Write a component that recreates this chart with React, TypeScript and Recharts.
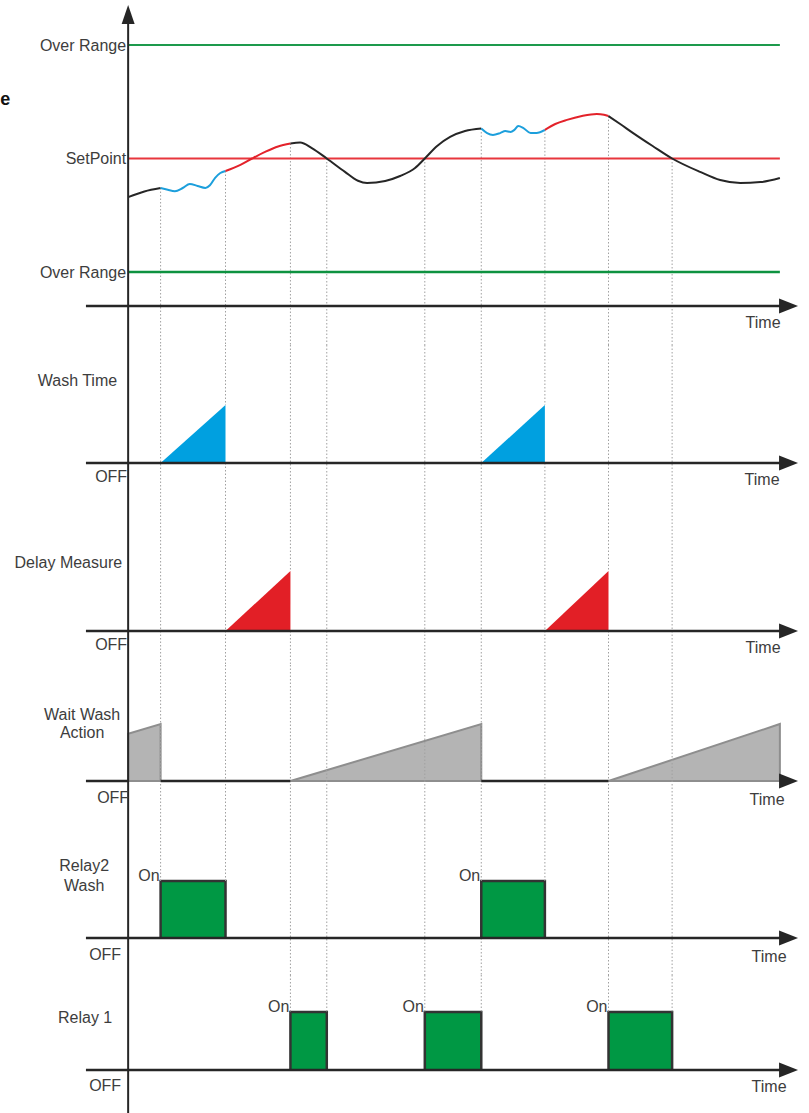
import { Area, ComposedChart, Line, ReferenceDot, ReferenceLine, XAxis, YAxis } from "recharts";

const FONT = '"Liberation Sans", Arial, sans-serif';
const INK = "#262626";
const TEXT = "#3d3d3d";
const GUIDE = "#a0a0a0";
const GREEN_LINE = "#1d9a4c";
const RED_LINE = "#e8363d";
const PV_BLACK = "#262626";
const PV_BLUE = "#1c9fdc";
const PV_RED = "#e3222a";
const WASH_FILL = "#00a0e0";
const DELAY_FILL = "#e21f26";
const WAIT_FILL = "#b4b4b4";
const WAIT_STROKE = "#8e8e8e";
const RELAY_FILL = "#009844";
const RELAY_STROKE = "#333333";

// shared time scale (arbitrary units)
const T_MIN = -6.8;
const T_MAX = 103.5;
const T_AXIS_START = -6.5;
const T_AXIS_END = 101;
const T_ARROW = 103.2;
const T_END = 100.4;

// dotted guide lines: the long ones reach Relay 1, the short ones stop at Relay2
const GUIDES_LONG = [25, 30.6, 45.7, 54.4, 74, 83.8];
const GUIDES_SHORT = [5, 15, 64.2];

// process value levels
const OVER_RANGE_HIGH = 10;
const SET_POINT = 5;
const OVER_RANGE_LOW = 0;
const PV_AXIS = -1.5;
const PV_TOP = 11.76;

type Pt = { t: number; v: number };

// process value curve, split by colour
const pvStart: Pt[] = [
  { t: 0, v: 3.3 }, { t: 2.5, v: 3.55 }, { t: 5, v: 3.7 },
];
const pvWash1: Pt[] = [
  { t: 5, v: 3.7 }, { t: 6.1, v: 3.62 }, { t: 7.2, v: 3.56 }, { t: 8.4, v: 3.7 },
  { t: 9.5, v: 3.88 }, { t: 10.7, v: 3.79 }, { t: 11.9, v: 3.7 }, { t: 12.6, v: 3.82 },
  { t: 13.4, v: 4.15 }, { t: 14.2, v: 4.36 }, { t: 15, v: 4.45 },
];
const pvDelay1: Pt[] = [
  { t: 15, v: 4.45 }, { t: 17.3, v: 4.72 }, { t: 19.1, v: 5.0 }, { t: 21.1, v: 5.29 },
  { t: 23.1, v: 5.53 }, { t: 25, v: 5.66 },
];
const pvFree1: Pt[] = [
  { t: 25, v: 5.66 }, { t: 26.5, v: 5.7 }, { t: 28.3, v: 5.46 }, { t: 30.6, v: 5.0 },
  { t: 33.4, v: 4.41 }, { t: 35.4, v: 4.02 }, { t: 36.8, v: 3.92 }, { t: 39.6, v: 4.01 },
  { t: 41.9, v: 4.23 }, { t: 44.2, v: 4.58 }, { t: 45.7, v: 5.0 }, { t: 47.6, v: 5.55 },
  { t: 49.6, v: 5.95 }, { t: 51.9, v: 6.21 }, { t: 54.4, v: 6.32 },
];
const pvWash2: Pt[] = [
  { t: 54.4, v: 6.32 }, { t: 55.3, v: 6.12 }, { t: 56.2, v: 6.04 }, { t: 57.3, v: 6.12 },
  { t: 58.1, v: 6.21 }, { t: 58.9, v: 6.17 }, { t: 59.5, v: 6.26 }, { t: 60.1, v: 6.43 },
  { t: 60.9, v: 6.34 }, { t: 62, v: 6.12 }, { t: 62.9, v: 6.12 }, { t: 64.2, v: 6.26 },
];
const pvDelay2: Pt[] = [
  { t: 64.2, v: 6.26 }, { t: 65.8, v: 6.52 }, { t: 67.6, v: 6.7 }, { t: 69.9, v: 6.87 },
  { t: 72.2, v: 6.96 }, { t: 73.3, v: 6.93 }, { t: 74, v: 6.87 },
];
const pvFree2: Pt[] = [
  { t: 74, v: 6.87 }, { t: 75.8, v: 6.52 }, { t: 77.8, v: 6.12 }, { t: 80.8, v: 5.55 },
  { t: 83.8, v: 5.0 }, { t: 88.1, v: 4.41 }, { t: 91.2, v: 4.05 }, { t: 94.3, v: 3.92 },
  { t: 97.4, v: 3.96 }, { t: 100.4, v: 4.14 },
];

// timers and relays: [start, end]
const washPulses = [[5, 15], [54.4, 64.2]];
const delayPulses = [[15, 25], [64.2, 74]];
const waitRamps = [
  { start: 0, from: 0.83, end: 5 },
  { start: 25, from: 0, end: 54.4 },
  { start: 74, from: 0, end: 100.4 },
];
const relay2Pulses = [[5, 15], [54.4, 64.2]];
const relay1Pulses = [[25, 30.6], [45.7, 54.4], [74, 83.8]];

const PV_SEGMENTS = [
  { data: pvStart, color: PV_BLACK },
  { data: pvWash1, color: PV_BLUE },
  { data: pvDelay1, color: PV_RED },
  { data: pvFree1, color: PV_BLACK },
  { data: pvWash2, color: PV_BLUE },
  { data: pvDelay2, color: PV_RED },
  { data: pvFree2, color: PV_BLACK },
];

const pvAt = (t: number) => {
  for (const s of PV_SEGMENTS) {
    const p = s.data.find((d) => Math.abs(d.t - t) < 1e-6);
    if (p) return p.v;
  }
  return SET_POINT;
};

const ramp = ([a, b]: number[]): Pt[] => [{ t: a, v: 0 }, { t: b, v: 1 }, { t: b, v: 0 }];
const pulse = ([a, b]: number[]): Pt[] => [{ t: a, v: 0 }, { t: a, v: 1 }, { t: b, v: 1 }, { t: b, v: 0 }];
const waitShape = (r: { start: number; from: number; end: number }): Pt[] => [
  { t: r.start, v: 0 },
  ...(r.from > 0 ? [{ t: r.start, v: r.from }] : []),
  { t: r.end, v: 1 },
  { t: r.end, v: 0 },
  { t: r.start, v: 0 },
];

type Spec = { top: number; height: number; zero: number; unit: number; offDx: number; offDy: number; timeDx: number; timeDy: number };

const P_PV: Spec = { top: 0, height: 345, zero: 272, unit: 22.7, offDx: 0, offDy: 0, timeDx: -35, timeDy: 22 };
const P_WASH: Spec = { top: 345, height: 160, zero: 118, unit: 58, offDx: -1, offDy: 19, timeDx: -36, timeDy: 22 };
const P_DELAY: Spec = { top: 505, height: 160, zero: 126, unit: 60, offDx: -1, offDy: 19, timeDx: -35, timeDy: 22 };
const P_WAIT: Spec = { top: 665, height: 155, zero: 116, unit: 57, offDx: 1, offDy: 22, timeDx: -31, timeDy: 24 };
const P_RELAY2: Spec = { top: 820, height: 155, zero: 118, unit: 57, offDx: -7, offDy: 22, timeDx: -29, timeDy: 24 };
const P_RELAY1: Spec = { top: 975, height: 138, zero: 95, unit: 58, offDx: -7, offDy: 21, timeDx: -29, timeDy: 22 };

const domainOf = (p: Spec): [number, number] => [-(p.height - p.zero) / p.unit, p.zero / p.unit];

const textAt =
  (label: string, dx: number, dy: number, anchor: "start" | "middle" | "end" = "end", extra: any = {}) =>
  (p: any) => (
    <text x={p.cx + dx} y={p.cy + dy} textAnchor={anchor} fill={TEXT} fontSize={16} fontFamily={FONT} {...extra}>
      {label}
    </text>
  );

const arrowRight = (p: any) => (
  <polygon points={`${p.cx},${p.cy} ${p.cx - 19},${p.cy - 7.5} ${p.cx - 19},${p.cy + 7.5}`} fill={INK} />
);
const arrowUp = (p: any) => (
  <polygon points={`${p.cx},${p.cy} ${p.cx - 6.5},${p.cy + 19} ${p.cx + 6.5},${p.cy + 19}`} fill={INK} />
);

// time axis with arrow; gaps are spans hidden under filled shapes
function baseAxis(p: Spec, level: number, gaps: number[][] = []) {
  const pieces: number[][] = [];
  let from = T_AXIS_START;
  for (const [a, b] of gaps) {
    if (a > from) pieces.push([from, a]);
    from = b;
  }
  pieces.push([from, T_AXIS_END]);
  return [
    ...pieces.map(([a, b]) => (
      <ReferenceLine key={`h-axis-${a}`} segment={[{ x: a, y: level }, { x: b, y: level }]} stroke={INK} strokeWidth={2.5} ifOverflow="visible" />
    )),
    <ReferenceDot key="h-arrow" x={T_ARROW} y={level} r={0} ifOverflow="visible" shape={arrowRight} />,
    <ReferenceDot key="time" x={T_ARROW} y={level} r={0} ifOverflow="visible" shape={textAt("Time", p.timeDx, p.timeDy, "middle")} />,
  ];
}

// dotted guides; at times in `cuts` the guide skips the 0..1 band covered by a shape
function guides(times: number[], top: (t: number) => number, bottom: (t: number) => number, cuts: number[] = []) {
  const out: any[] = [];
  times.forEach((t) => {
    const hi = top(t);
    const lo = bottom(t);
    const spans = cuts.some((c) => Math.abs(c - t) < 1e-6)
      ? [[hi, 1], ...(lo < 0 ? [[0, lo]] : [])]
      : [[hi, lo]];
    spans.forEach(([y1, y2], k) =>
      out.push(
        <ReferenceLine
          key={`g-${t}-${k}`}
          segment={[{ x: t, y: y1 }, { x: t, y: y2 }]}
          stroke={GUIDE}
          strokeWidth={1}
          strokeDasharray="1.5 2"
          ifOverflow="visible"
        />
      )
    );
  });
  return out;
}

function Panel({ spec, children }: { spec: Spec; children: any }) {
  const [lo, hi] = domainOf(spec);
  return (
    <div style={{ position: "absolute", left: 0, top: spec.top, width: 809, height: spec.height }}>
      <ComposedChart width={809} height={spec.height} margin={{ top: 0, right: 9, bottom: 0, left: 84 }}>
        <XAxis type="number" dataKey="t" domain={[T_MIN, T_MAX]} hide allowDataOverflow />
        <YAxis type="number" dataKey="v" domain={[lo, hi]} hide allowDataOverflow />
        {children}
      </ComposedChart>
    </div>
  );
}

const offLabel = (p: Spec) => (
  <ReferenceDot key="off" x={0} y={0} r={0} ifOverflow="visible" shape={textAt("OFF", p.offDx, p.offDy)} />
);

function vAxis(p: Spec) {
  const [lo, hi] = domainOf(p);
  return <ReferenceLine key="v-axis" segment={[{ x: 0, y: lo }, { x: 0, y: hi }]} stroke={INK} strokeWidth={2} ifOverflow="visible" />;
}

const edges = (pulses: number[][]) => pulses.flat();
const ends = (pulses: number[][]) => pulses.map((p) => p[1]);

export default function App() {
  const [pvLo] = domainOf(P_PV);
  const [washLo, washHi] = domainOf(P_WASH);
  const [delayLo, delayHi] = domainOf(P_DELAY);
  const [waitLo, waitHi] = domainOf(P_WAIT);
  const [r2Lo, r2Hi] = domainOf(P_RELAY2);
  const [, r1Hi] = domainOf(P_RELAY1);
  const allGuides = [...GUIDES_SHORT, ...GUIDES_LONG];
  const isShort = (t: number) => GUIDES_SHORT.includes(t);

  return (
    <div style={{ position: "absolute", left: 0, top: 0, width: 809, height: 1113, background: "#fff", overflow: "hidden" }}>
      {/* process value vs setpoint */}
      <Panel spec={P_PV}>
        {guides(allGuides, pvAt, () => pvLo)}
        <ReferenceLine segment={[{ x: 0, y: OVER_RANGE_HIGH }, { x: T_END, y: OVER_RANGE_HIGH }]} stroke={GREEN_LINE} strokeWidth={2} />
        <ReferenceLine segment={[{ x: 0, y: SET_POINT }, { x: T_END, y: SET_POINT }]} stroke={RED_LINE} strokeWidth={2} />
        <ReferenceLine segment={[{ x: 0, y: OVER_RANGE_LOW }, { x: T_END, y: OVER_RANGE_LOW }]} stroke="#0d9240" strokeWidth={2.5} />
        {PV_SEGMENTS.map((s, i) => (
          <Line
            key={`pv-${i}`}
            data={s.data}
            dataKey="v"
            type="monotone"
            stroke={s.color}
            strokeWidth={2}
            dot={false}
            activeDot={false}
            isAnimationActive={false}
          />
        ))}
        <ReferenceLine segment={[{ x: 0, y: pvLo }, { x: 0, y: PV_TOP - 0.6 }]} stroke={INK} strokeWidth={2} ifOverflow="visible" />
        <ReferenceDot x={0} y={PV_TOP} r={0} ifOverflow="visible" shape={arrowUp} />
        {baseAxis(P_PV, PV_AXIS)}
        <ReferenceDot x={0} y={OVER_RANGE_HIGH} r={0} ifOverflow="visible" shape={textAt("Over Range", -2, 5.5)} />
        <ReferenceDot x={0} y={SET_POINT} r={0} ifOverflow="visible" shape={textAt("SetPoint", -2, 5.5)} />
        <ReferenceDot x={0} y={OVER_RANGE_LOW} r={0} ifOverflow="visible" shape={textAt("Over Range", -2, 5.5)} />
        <ReferenceDot
          x={0}
          y={OVER_RANGE_HIGH}
          r={0}
          ifOverflow="visible"
          shape={textAt("e", -128, 60, "start", { fontWeight: 700, fontSize: 18, fill: "#111" })}
        />
      </Panel>

      {/* wash time */}
      <Panel spec={P_WASH}>
        {guides(allGuides, () => washHi, () => washLo, ends(washPulses))}
        {vAxis(P_WASH)}
        {baseAxis(P_WASH, 0)}
        {washPulses.map((w, i) => (
          <Area key={`w-${i}`} data={ramp(w)} dataKey="v" type="linear" fill={WASH_FILL} fillOpacity={1} stroke="none" dot={false} activeDot={false} isAnimationActive={false} />
        ))}
        {offLabel(P_WASH)}
        <ReferenceDot x={0} y={0} r={0} ifOverflow="visible" shape={textAt("Wash Time", -11, -77.5)} />
      </Panel>

      {/* delay measure */}
      <Panel spec={P_DELAY}>
        {guides(allGuides, () => delayHi, () => delayLo, ends(delayPulses))}
        {vAxis(P_DELAY)}
        {baseAxis(P_DELAY, 0)}
        {delayPulses.map((d, i) => (
          <Area key={`d-${i}`} data={ramp(d)} dataKey="v" type="linear" fill={DELAY_FILL} fillOpacity={1} stroke="none" dot={false} activeDot={false} isAnimationActive={false} />
        ))}
        {offLabel(P_DELAY)}
        <ReferenceDot x={0} y={0} r={0} ifOverflow="visible" shape={textAt("Delay Measure", -6, -63.5)} />
      </Panel>

      {/* wait wash action */}
      <Panel spec={P_WAIT}>
        {guides(allGuides, () => waitHi, () => waitLo)}
        {vAxis(P_WAIT)}
        {baseAxis(P_WAIT, 0, waitRamps.map((r) => [r.start, r.end]))}
        {waitRamps.map((r, i) => (
          <Area key={`ww-${i}`} data={waitShape(r)} dataKey="v" type="linear" fill={WAIT_FILL} fillOpacity={1} stroke={WAIT_STROKE} strokeWidth={2} dot={false} activeDot={false} isAnimationActive={false} />
        ))}
        {offLabel(P_WAIT)}
        <ReferenceDot x={0} y={0} r={0} ifOverflow="visible" shape={textAt("Wait Wash", -46, -61.5, "middle")} />
        <ReferenceDot x={0} y={0} r={0} ifOverflow="visible" shape={textAt("Action", -46, -43.5, "middle")} />
      </Panel>

      {/* relay 2 (wash) */}
      <Panel spec={P_RELAY2}>
        {guides(allGuides, () => r2Hi, (t) => (isShort(t) ? 0 : r2Lo), edges(relay2Pulses))}
        {vAxis(P_RELAY2)}
        {baseAxis(P_RELAY2, 0)}
        {relay2Pulses.map((r, i) => (
          <Area key={`r2-${i}`} data={pulse(r)} dataKey="v" type="linear" fill={RELAY_FILL} fillOpacity={1} stroke={RELAY_STROKE} strokeWidth={2.5} dot={false} activeDot={false} isAnimationActive={false} />
        ))}
        {relay2Pulses.map((r, i) => (
          <ReferenceDot key={`r2on-${i}`} x={r[0]} y={1} r={0} ifOverflow="visible" shape={textAt("On", -1, 0)} />
        ))}
        {offLabel(P_RELAY2)}
        <ReferenceDot x={0} y={0} r={0} ifOverflow="visible" shape={textAt("Relay2", -44, -67.5, "middle")} />
        <ReferenceDot x={0} y={0} r={0} ifOverflow="visible" shape={textAt("Wash", -44, -47.5, "middle")} />
      </Panel>

      {/* relay 1 */}
      <Panel spec={P_RELAY1}>
        {guides(GUIDES_LONG, () => r1Hi, () => 0, edges(relay1Pulses))}
        {vAxis(P_RELAY1)}
        {baseAxis(P_RELAY1, 0)}
        {relay1Pulses.map((r, i) => (
          <Area key={`r1-${i}`} data={pulse(r)} dataKey="v" type="linear" fill={RELAY_FILL} fillOpacity={1} stroke={RELAY_STROKE} strokeWidth={2.5} dot={false} activeDot={false} isAnimationActive={false} />
        ))}
        {relay1Pulses.map((r, i) => (
          <ReferenceDot key={`r1on-${i}`} x={r[0]} y={1} r={0} ifOverflow="visible" shape={textAt("On", -1, 0)} />
        ))}
        {offLabel(P_RELAY1)}
        <ReferenceDot x={0} y={0} r={0} ifOverflow="visible" shape={textAt("Relay 1", -43, -47.5, "middle")} />
      </Panel>
    </div>
  );
}
